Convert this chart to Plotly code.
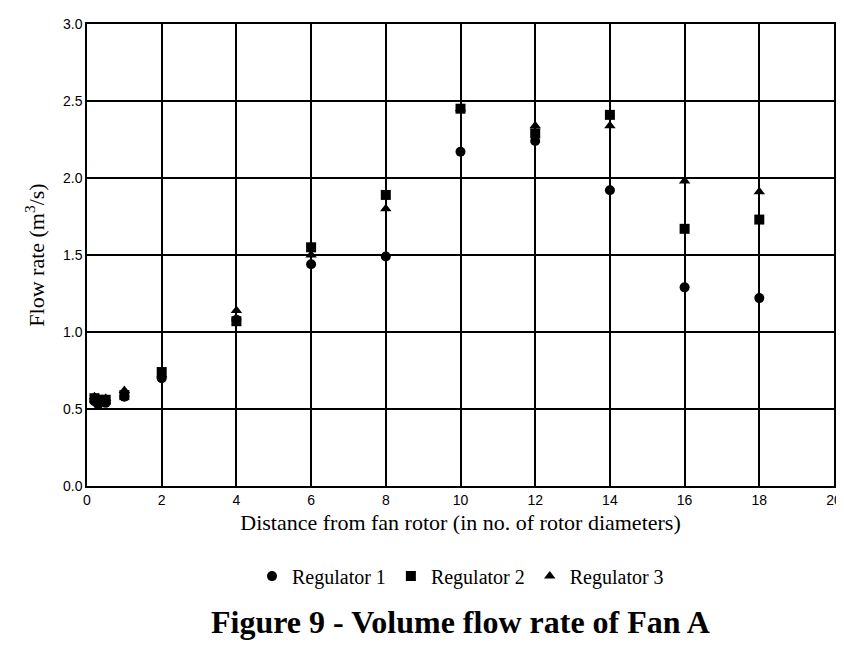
import plotly.graph_objects as go

distance = [0.2, 0.3, 0.5, 1, 2, 4, 6, 8, 10, 12, 14, 16, 18]
reg1 = [0.55, 0.53, 0.54, 0.58, 0.70, 1.08, 1.44, 1.49, 2.17, 2.24, 1.92, 1.29, 1.22]
reg2 = [0.57, 0.56, 0.56, 0.59, 0.74, 1.07, 1.55, 1.89, 2.45, 2.29, 2.41, 1.67, 1.73]
reg3 = [0.58, 0.57, 0.57, 0.62, 0.72, 1.14, 1.50, 1.80, 2.45, 2.34, 2.34, 1.98, 1.91]

serif = "Liberation Serif, Times New Roman, serif"

fig = go.Figure()
for name, ys, sym in [("Regulator 1", reg1, "circle"),
                      ("Regulator 2", reg2, "square"),
                      ("Regulator 3", reg3, "triangle-up")]:
    fig.add_scatter(x=distance, y=ys, mode="markers", name=name,
                    marker=dict(symbol=sym, color="black", size=10))

fig.update_layout(
    width=844, height=645,
    margin=dict(l=79, r=18, t=16, b=167, autoexpand=False),
    plot_bgcolor="white", paper_bgcolor="white",
    font=dict(family=serif, color="black"),
    showlegend=True,
    legend=dict(orientation="h", x=0.5, xanchor="center", y=-0.195, yanchor="middle",
                font=dict(size=20, family=serif), itemwidth=30, tracegroupgap=0),
    xaxis=dict(range=[0, 20], dtick=2, showgrid=True, gridcolor="black", gridwidth=1.5,
               showline=True, linecolor="black", mirror=True, linewidth=1.5, automargin=False,
               zeroline=False, ticks="", tickfont=dict(size=14, family="Liberation Sans"),
               title=dict(text="Distance from fan rotor (in no. of rotor diameters)",
                          font=dict(size=22, family=serif), standoff=8)),
    yaxis=dict(range=[0, 3], dtick=0.5, tickformat=".1f", showgrid=True, gridcolor="black",
               gridwidth=1.5, showline=True, linecolor="black", mirror=True, linewidth=1.5,
               automargin=False,
               zeroline=False, ticks="", tickfont=dict(size=14, family="Liberation Sans"),
               title=dict(text="Flow rate (m<sup>3</sup>/s)", font=dict(size=22, family=serif),
                          standoff=12)),
)
fig.add_annotation(text="<b>Figure 9 - Volume flow rate of Fan A</b>", xref="paper", yref="paper",
                   x=0.5, y=-0.295, xanchor="center", yanchor="middle", showarrow=False,
                   font=dict(size=32, family=serif))

fig.write_html("out.html")
